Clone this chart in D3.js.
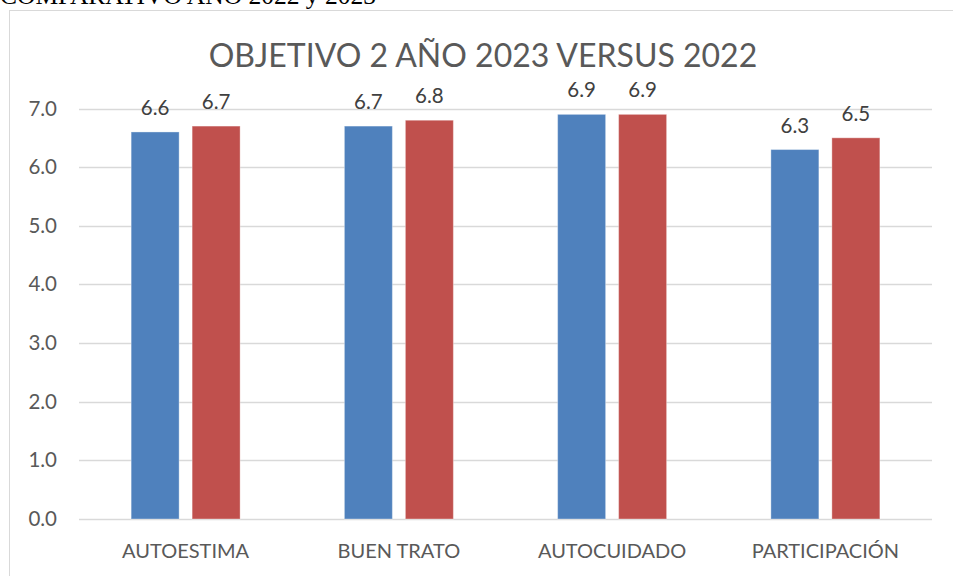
<!DOCTYPE html>
<html>
<head>
<meta charset="utf-8">
<script src="https://cdn.jsdelivr.net/npm/d3@7"></script>
<style>
  body { margin: 0; background: #fff; }
</style>
</head>
<body>
<div id="viz"></div>
<script>
// ── DATA ────────────────────────────────────────────────────────────────────
const categories = ["AUTOESTIMA", "BUEN TRATO", "AUTOCUIDADO", "PARTICIPACIÓN"];
const values2022 = [6.6, 6.7, 6.9, 6.3];
const values2023 = [6.7, 6.8, 6.9, 6.5];
const yTicks = [0, 1, 2, 3, 4, 5, 6, 7];

// ── SETTINGS ────────────────────────────────────────────────────────────────
const width = 953, height = 576;
const svg = d3.select("#viz").append("svg")
    .attr("width", width)
    .attr("height", height)
    .style("display", "block");

const font = "Lato, 'Open Sans', sans-serif";
const textColor = "#595959";

// caption above the chart box (cut off at the top)
svg.append("text")
    .attr("x", 0)
    .attr("y", 4)
    .attr("font-family", "'Liberation Serif', serif")
    .attr("font-size", 25.5)
    .attr("fill", "#000")
    .text("COMPARATIVO AÑO 2022 y 2023");

// chart border
svg.append("rect")
    .attr("x", 9.5).attr("y", 10.5)
    .attr("width", 960).attr("height", 600)
    .attr("fill", "none")
    .attr("stroke", "#d9d9d9");

// ── SCALES ──────────────────────────────────────────────────────────────────
const x = d3.scaleBand().domain(categories).range([79, 932]).padding(0);
const y = d3.scaleLinear().domain([0, 7]).range([519, 108.5]);

const barW = x.bandwidth() * 0.225;
const gap = x.bandwidth() * 0.061;

// gridlines
svg.append("g")
  .selectAll("line")
  .data(yTicks)
  .join("line")
    .attr("x1", 79).attr("x2", 932)
    .attr("y1", d => Math.round(y(d)) + 0.5)
    .attr("y2", d => Math.round(y(d)) + 0.5)
    .attr("stroke", "#d9d9d9")
    .attr("stroke-width", 1.3);

// y labels
svg.append("g")
  .selectAll("text")
  .data(yTicks)
  .join("text")
    .attr("x", 57)
    .attr("y", d => y(d) + 7)
    .attr("text-anchor", "end")
    .attr("font-family", font)
    .attr("font-size", 20.5)
    .attr("fill", textColor)
    .text(d => d3.format(".1f")(d));

// x labels
svg.append("g")
  .selectAll("text")
  .data(categories)
  .join("text")
    .attr("x", d => x(d) + x.bandwidth() / 2)
    .attr("y", 558)
    .attr("text-anchor", "middle")
    .attr("font-family", font)
    .attr("font-size", 20)
    .attr("fill", textColor)
    .text(d => d);

// ── BARS ────────────────────────────────────────────────────────────────────
const series = [
  { vals: values2022, color: "#4f81bd", off: -gap / 2 - barW },
  { vals: values2023, color: "#c0504d", off: gap / 2 }
];

series.forEach(s => {
  const g = svg.append("g");
  g.selectAll("rect")
    .data(categories)
    .join("rect")
      .attr("x", d => x(d) + x.bandwidth() / 2 + s.off)
      .attr("y", (d, i) => y(s.vals[i]))
      .attr("width", barW)
      .attr("height", (d, i) => y(0) - y(s.vals[i]))
      .attr("fill", s.color)
      .attr("stroke", "#ffffff")
      .attr("stroke-opacity", 0.35)
      .attr("stroke-width", 1);

  g.selectAll("text")
    .data(categories)
    .join("text")
      .attr("x", d => x(d) + x.bandwidth() / 2 + s.off + barW / 2)
      .attr("y", (d, i) => y(s.vals[i]) - 17)
      .attr("text-anchor", "middle")
      .attr("font-family", font)
      .attr("font-size", 20.5)
      .attr("fill", "#404040")
      .text((d, i) => d3.format(".1f")(s.vals[i]));
});

// title
svg.append("text")
    .attr("x", 483)
    .attr("y", 67)
    .attr("text-anchor", "middle")
    .attr("font-family", font)
    .attr("font-size", 32)
    .attr("fill", textColor)
    .text("OBJETIVO 2 AÑO 2023 VERSUS 2022");
</script>
</body>
</html>
